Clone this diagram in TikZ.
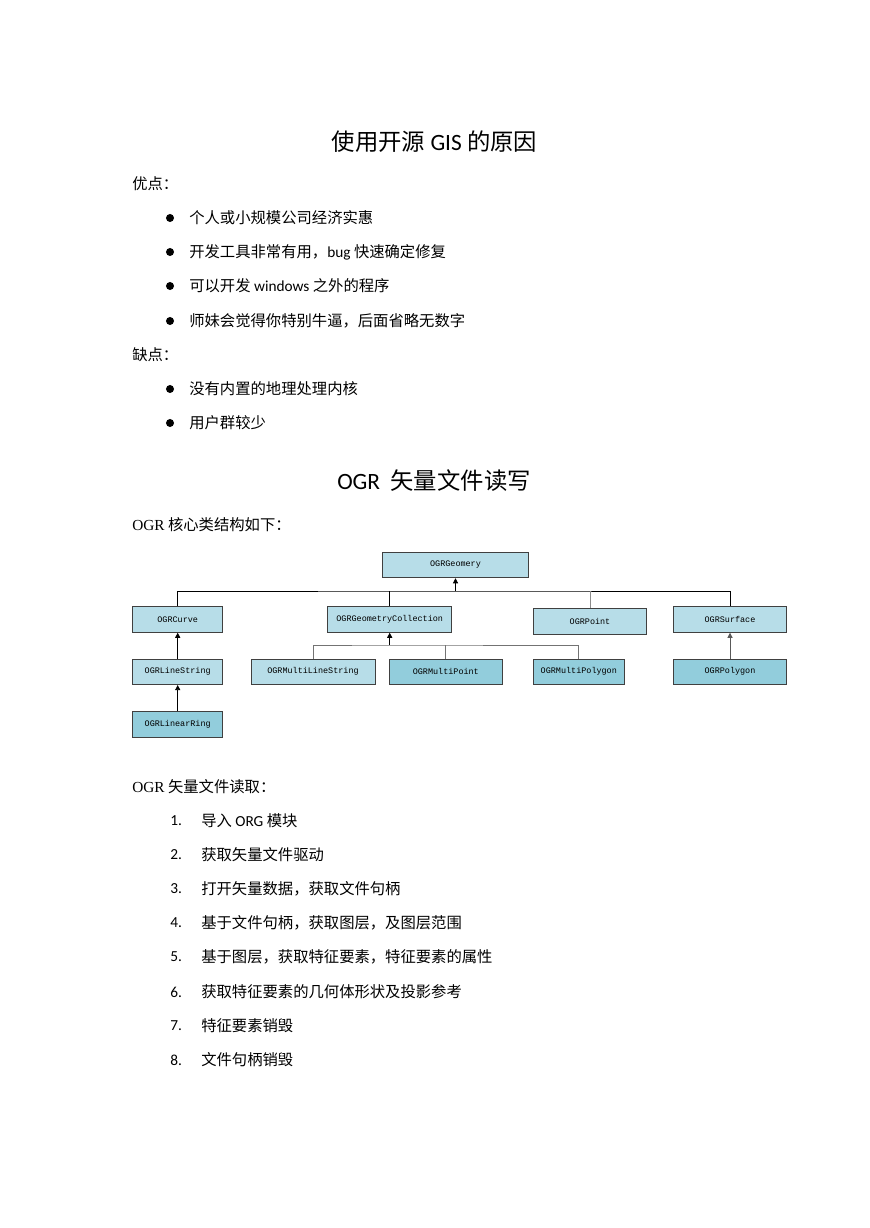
\documentclass[tikz,border=0pt]{standalone}
\usepackage{fontspec}
\setmainfont{Noto Sans CJK SC}
\newfontfamily\latinfont{Carlito}
\newfontfamily\romanfont{Liberation Serif}
\newfontfamily\boxfont{Liberation Mono}
\usetikzlibrary{arrows.meta}
\definecolor{lightbox}{HTML}{B7DDE8}
\definecolor{darkbox}{HTML}{92CDDC}
\begin{document}
\begin{tikzpicture}
[x=0.685pt,y=-0.685pt,
 boxdecorate/.style={draw=black!75,line width=0.6pt,inner sep=0pt,minimum height=17.5pt,%
   font=\boxfont\fontsize{5.8}{7}\selectfont},
 linedecorate/.style={-,line width=0.6pt},
 arrowdecorate/.style={-{Triangle[length=3.5pt,width=3.5pt]},line width=0.6pt},
 textdecorate/.style={anchor=west,inner sep=0pt,font=\fontsize{10.5}{12}\selectfont},
 titledecorate/.style={inner sep=0pt,font=\fontsize{16}{18}\selectfont},
 dotdecorate/.style={circle,fill,inner sep=0pt,minimum size=5.5pt}]
\useasboundingbox[fill=white] (0,0) rectangle (869,1228);
%% first part
\node (title1) at (434.5,142) [titledecorate] {使用开源 {\latinfont GIS} 的原因};
\node (pro) at (132,184) [textdecorate] {优点：};
\foreach \y/\txt in {218/个人或小规模公司经济实惠, 252/开发工具非常有用，{\latinfont bug} 快速确定修复,
  286/可以开发 {\latinfont windows} 之外的程序, 321/师妹会觉得你特别牛逼，后面省略无数字} {
  \node (prodot\y) at (170,\y) [dotdecorate] {};
  \node (protext\y) at (189,\y) [textdecorate] {\txt};
}
\node (con) at (132,355) [textdecorate] {缺点：};
\foreach \y/\txt in {389/没有内置的地理处理内核, 423/用户群较少} {
  \node (condot\y) at (170,\y) [dotdecorate] {};
  \node (context\y) at (189,\y) [textdecorate] {\txt};
}
%% second part
\node (title2) at (434,481) [titledecorate] {{\latinfont OGR}\ \ 矢量文件读写};
\node (intro) at (132,525) [textdecorate] {{\romanfont OGR} 核心类结构如下：};
%% class boxes
\foreach \nodename/\x/\y/\w/\col/\txt in {
  geom/455.5/565/146/lightbox/OGRGeomery,
  curve/177.7/619.5/90/lightbox/OGRCurve,
  coll/389.7/619.5/124/lightbox/OGRGeometryCollection,
  point/590/621.2/113/lightbox/OGRPoint,
  surface/730/619.5/113/lightbox/OGRSurface,
  linestr/177.7/671.8/90/lightbox/OGRLineString,
  mline/313/671.8/124/lightbox/OGRMultiLineString,
  mpoint/445.8/671.8/113/darkbox/OGRMultiPoint,
  mpoly/578.8/671.8/91/darkbox/OGRMultiPolygon,
  polygon/730/671.8/113/darkbox/OGRPolygon,
  ring/177.7/724.7/90/darkbox/OGRLinearRing} {
  \node (\nodename) at (\x,\y) [boxdecorate,fill=\col,minimum width=\w*0.685pt] {\txt};
}
%% connectors
\coordinate (jt) at (455.5,591);
\coordinate (jb) at (389.7,645);
\draw[linedecorate] (curve.north) |- (jt) -| (surface.north);
\draw[linedecorate] (coll.north) -- (coll.north |- jt);
\draw[linedecorate,black!45] (point.north) -- (point.north |- jt);
\draw[arrowdecorate] (jt) -- (geom.south);
\draw[linedecorate,black!55] (mline.north) |- (jb) -| (mpoly.north);
\draw[linedecorate,black!55] (mpoint.north) -- (mpoint.north |- jb);
\draw[arrowdecorate] (jb) -- (coll.south);
\draw[arrowdecorate] (linestr) -- (curve);
\draw[arrowdecorate] (ring) -- (linestr);
\draw[arrowdecorate,black!65] (polygon) -- (surface);
%% reading steps
\node (steps) at (132,787) [textdecorate] {{\romanfont OGR} 矢量文件读取：};
\foreach \n/\y/\txt in {1/821/导入 {\latinfont ORG} 模块, 2/855/获取矢量文件驱动,
  3/889/打开矢量数据，获取文件句柄, 4/923/基于文件句柄，获取图层，及图层范围,
  5/957/基于图层，获取特征要素，特征要素的属性, 6/992/获取特征要素的几何体形状及投影参考,
  7/1026/特征要素销毁, 8/1060/文件句柄销毁} {
  \node (num\n) at (170,\y) [textdecorate] {\latinfont\n.};
  \node (step\n) at (201,\y) [textdecorate] {\txt};
}
\end{tikzpicture}
\end{document}
